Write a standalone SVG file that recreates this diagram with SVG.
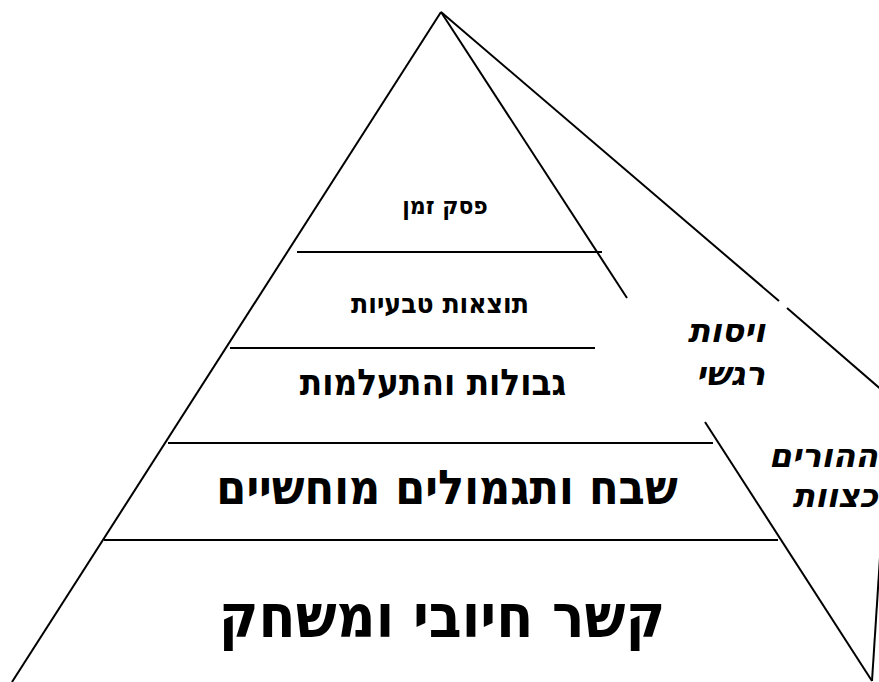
<svg xmlns="http://www.w3.org/2000/svg" width="879" height="682" viewBox="0 0 879 682">
<style>
.ln{stroke:#000;stroke-width:2;fill:none;stroke-linecap:butt}
.t{font-family:"DejaVu Sans Condensed","DejaVu Sans","Liberation Sans",sans-serif;font-stretch:condensed;font-weight:bold;fill:#000;text-anchor:middle}
.h{font-family:"DejaVu Sans","Liberation Sans",sans-serif;font-style:italic;font-weight:bold;fill:#000;text-anchor:end;font-size:33px}
</style>
<rect width="879" height="682" fill="#fff"/>
<g id="connectors">
<line class="ln" x1="441" y1="12" x2="12" y2="682"/>
<line class="ln" x1="441" y1="12" x2="627" y2="298"/>
<line class="ln" x1="705" y1="422" x2="872" y2="681"/>
<line class="ln" x1="872" y1="681" x2="885" y2="480"/>
<line class="ln" x1="441" y1="12" x2="779" y2="301"/>
<line class="ln" x1="787" y1="308" x2="884" y2="392"/>
<line class="ln" x1="297" y1="252" x2="602" y2="252"/>
<line class="ln" x1="230" y1="348" x2="595" y2="348"/>
<line class="ln" x1="168" y1="443" x2="713" y2="443"/>
<line class="ln" x1="104" y1="540" x2="778" y2="540"/>
</g>
<g id="tier5"><text class="t" x="445" y="214" font-size="24.5">פסק זמן</text></g>
<g id="tier4"><text class="t" x="440" y="313" font-size="28">תוצאות טבעיות</text></g>
<g id="tier3"><text class="t" x="433" y="395" font-size="36.5">גבולות והתעלמות</text></g>
<g id="tier2"><text class="t" x="447" y="504" font-size="48">שבח ותגמולים מוחשיים</text></g>
<g id="tier1"><text class="t" x="442" y="637" font-size="60">קשר חיובי ומשחק</text></g>
<g id="side1"><text class="h" x="765" y="342">ויסות</text><text class="h" x="765" y="385">רגשי</text></g>
<g id="side2"><text class="h" x="878" y="467">ההורים</text><text class="h" x="878" y="507">כצוות</text></g>
</svg>
